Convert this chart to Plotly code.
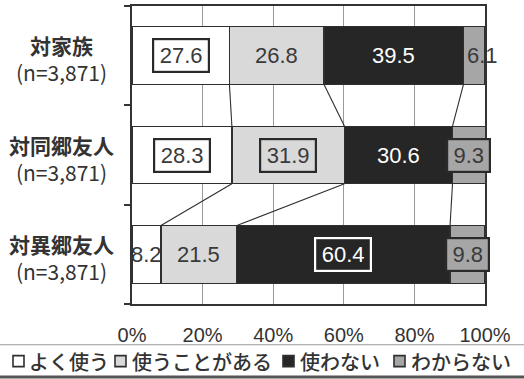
import plotly.graph_objects as go

categories = ["対家族", "対同郷友人", "対異郷友人"]
sample_sizes = ["(n=3,871)", "(n=3,871)", "(n=3,871)"]
series_names = ["よく使う", "使うことがある", "使わない", "わからない"]
often_use = [27.6, 28.3, 8.2]
sometimes_use = [26.8, 31.9, 21.5]
never_use = [39.5, 30.6, 60.4]
dont_know = [6.1, 9.3, 9.8]
x_ticks = [0, 20, 40, 60, 80, 100]
x_tick_labels = ["0%", "20%", "40%", "60%", "80%", "100%"]

series_values = [often_use, sometimes_use, never_use, dont_know]
fills = ["#ffffff", "#d9d9d9", "#262626", "#a6a6a6"]
text_colors = ["#3a3a3a", "#3a3a3a", "#ffffff", "#3a3a3a"]
# which labels have a frame: (series, row)
boxed = {(0, 0), (0, 1), (1, 1), (2, 2), (3, 1), (3, 2)}

W, H = 524, 379
L, R, T, B = 132, 39, 4, 75
PW, PH = W - L - R, H - T - B


def px_x(px):
    return (px - L) / PW


def px_y(py):
    return (T + PH - py) / PH


rows = list(range(len(categories)))
BAR_W = 0.58

fig = go.Figure()
for s, (name, vals) in enumerate(zip(series_names, series_values)):
    fig.add_trace(go.Bar(
        name=name, y=rows, x=vals, orientation="h", width=BAR_W,
        marker=dict(color=fills[s], line=dict(color="#2f2f2f", width=1.2)),
        showlegend=False, hoverinfo="skip",
    ))

# cumulative boundaries
cums = []
for r in rows:
    c, acc = [], 0.0
    for s in range(len(series_values)):
        acc += series_values[s][r]
        c.append(acc)
    cums.append(c)

# connector lines between rows
lx, ly = [], []
for r in rows[:-1]:
    for k in range(3):
        lx += [cums[r][k], cums[r + 1][k], None]
        ly += [r + BAR_W / 2, r + 1 - BAR_W / 2, None]
fig.add_trace(go.Scatter(x=lx, y=ly, mode="lines",
                         line=dict(color="#2f2f2f", width=1.1),
                         showlegend=False, hoverinfo="skip"))

annotations = []
for r in rows:
    start = 0.0
    for s in range(len(series_values)):
        v = series_values[s][r]
        mid = start + v / 2
        start += v
        txt = f"{v:.1f}"
        a = dict(x=mid, y=r, xref="x", yref="y", text=txt, showarrow=False,
                 font=dict(family="Liberation Sans, Arial", size=22, color=text_colors[s]))
        if s == 3 and r == 0:
            a["xshift"] = 8
        if (s, r) in boxed:
            a.update(bgcolor=fills[s],
                     bordercolor="#ffffff" if s == 2 else "#2a2a2a",
                     borderwidth=2.2, borderpad=2,
                     width=50 if len(txt) >= 4 else 37, height=27)
        annotations.append(a)

# category labels
for r in rows:
    annotations.append(dict(
        x=px_x(61), y=r, xref="paper", yref="y", xanchor="center", yanchor="middle",
        yshift=-3, align="center", showarrow=False,
        text=f"<b>{categories[r]}</b><br>{sample_sizes[r]}",
        font=dict(family="Noto Sans CJK JP, Liberation Sans", size=21, color="#333333"),
    ))

# custom legend
leg_sq = [13, 115, 283, 394]
leg_tx = [27, 130, 298, 409]
shapes = []
for i, name in enumerate(series_names):
    shapes.append(dict(type="rect", xref="paper", yref="paper",
                       x0=px_x(leg_sq[i]), x1=px_x(leg_sq[i] + 11),
                       y0=px_y(367), y1=px_y(356),
                       fillcolor=fills[i], line=dict(color="#2f2f2f", width=1.6)))
    annotations.append(dict(x=px_x(leg_tx[i]), y=px_y(362), xref="paper", yref="paper",
                            xanchor="left", yanchor="middle", showarrow=False, text=name,
                            font=dict(family="Noto Sans CJK JP", size=20, color="#333333",
                                      weight=500)))
shapes.append(dict(type="line", xref="paper", yref="paper", x0=px_x(0), x1=px_x(W),
                   y0=px_y(345), y1=px_y(345), line=dict(color="#9a9a9a", width=1.2)))
shapes.append(dict(type="line", xref="paper", yref="paper", x0=px_x(0), x1=px_x(W),
                   y0=px_y(377.5), y1=px_y(377.5), line=dict(color="#555555", width=3)))

fig.update_layout(
    width=W, height=H, margin=dict(l=L, r=R, t=T, b=B),
    barmode="stack", paper_bgcolor="#ffffff", plot_bgcolor="#ffffff",
    showlegend=False, annotations=annotations, shapes=shapes,
    xaxis=dict(range=[0, 100], tickmode="array", tickvals=x_ticks, ticktext=x_tick_labels,
               showgrid=True, gridcolor="#9a9a9a", gridwidth=1,
               showline=True, linecolor="#333333", linewidth=1.5, mirror=True,
               zeroline=False, ticks="", ticklabelstandoff=12,
               tickfont=dict(family="Liberation Sans, Arial", size=20, color="#333333")),
    yaxis=dict(range=[2.5, -0.5], tickvals=[-0.5, 0.5, 1.5, 2.5], showticklabels=False,
               ticks="outside", ticklen=6, tickwidth=1.5, tickcolor="#333333",
               showgrid=False, zeroline=False,
               showline=True, linecolor="#333333", linewidth=2, mirror=True),
)

fig.write_html("out.html")
